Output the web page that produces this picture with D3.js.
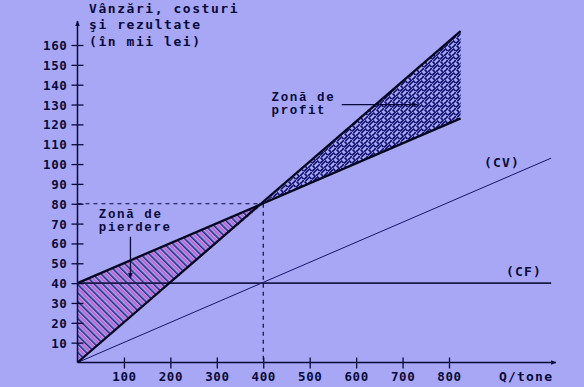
<!DOCTYPE html>
<html>
<head>
<meta charset="utf-8">
<script src="https://cdn.jsdelivr.net/npm/d3@7"></script>
<style>
  html, body { margin: 0; padding: 0; background: #a7a7f5; }
  svg { display: block; }
</style>
</head>
<body>
<svg id="chart" width="584" height="387"></svg>
<script>
// ---- data ----
const xTicks = [100, 200, 300, 400, 500, 600, 700, 800];
const yTicks = [10, 20, 30, 40, 50, 60, 70, 80, 90, 100, 110, 120, 130, 140, 150, 160];
const qValues = [0, 825];                 // quantity range for sales / total cost
const salesValues = [0, 167];             // sales (Vânzări)
const totalCostValues = [40, 123];        // total costs
const cvQ = [0, 1020];
const cvValues = [0, 103];                // variable costs (CV)
const cfQ = [0, 1020];
const cfValues = [40, 40];                // fixed costs (CF)
const breakEven = { q: 400, v: 80 };
const yTitle = ["Vânzări, costuri", "şi rezultate", "(în mii lei)"];
const xTitle = "Q/tone";

// ---- setup ----
const svg = d3.select("#chart");
const W = 584, H = 387;
svg.append("rect").attr("width", W).attr("height", H).attr("fill", "#a7a7f5");

const x = d3.scaleLinear().domain([0, 800]).range([77.5, 449]);
const y = d3.scaleLinear().domain([0, 160]).range([362.5, 45]);

const ink = "#0a0a3a";
const defs = svg.append("defs");

// loss hatch
const pl = defs.append("pattern").attr("id", "loss").attr("patternUnits", "userSpaceOnUse")
  .attr("width", 6).attr("height", 6).attr("patternTransform", "rotate(-45)");
pl.append("rect").attr("width", 6).attr("height", 6).attr("fill", "#a7a7f5");
pl.append("rect").attr("x", 0).attr("width", 1.8).attr("height", 6).attr("fill", "#c45fc8");
pl.append("rect").attr("x", 3).attr("width", 1.6).attr("height", 6).attr("fill", "#2a2a86");

// profit weave
const pp = defs.append("pattern").attr("id", "profit").attr("patternUnits", "userSpaceOnUse")
  .attr("width", 8).attr("height", 8);
pp.append("rect").attr("width", 8).attr("height", 8).attr("fill", "#a9a9f6");
pp.append("path").attr("d", "M0,3.5 L3.5,0 M1.5,5 L5,1.5 M4,8 L8,4")
  .attr("stroke", "#10106e").attr("stroke-width", 1.7).attr("fill", "none");
pp.append("path").attr("d", "M5,0.5 L7.5,3 M0.5,5.5 L3,8")
  .attr("stroke", "#10106e").attr("stroke-width", 1.7).attr("fill", "none");

const interp = (arrQ, arrV, q) => d3.scaleLinear().domain(arrQ).range(arrV)(q);

// loss area
const lossPts = [[0, interp(qValues, salesValues, 0)], [0, interp(qValues, totalCostValues, 0)], [breakEven.q, breakEven.v]];
svg.append("path")
  .attr("d", d3.line().x(d => x(d[0])).y(d => y(d[1]))(lossPts) + "Z")
  .attr("fill", "url(#loss)");

// profit area
const qEnd = qValues[1];
const profitPts = [[breakEven.q, breakEven.v], [qEnd, interp(qValues, salesValues, qEnd)], [qEnd, interp(qValues, totalCostValues, qEnd)]];
svg.append("path")
  .attr("d", d3.line().x(d => x(d[0])).y(d => y(d[1]))(profitPts) + "Z")
  .attr("fill", "url(#profit)");

// dashed break-even guides
svg.append("line").attr("x1", x(0)).attr("x2", x(breakEven.q)).attr("y1", y(breakEven.v)).attr("y2", y(breakEven.v))
  .attr("stroke", ink).attr("stroke-width", 1.2).attr("stroke-dasharray", "4,4");
svg.append("line").attr("x1", x(breakEven.q)).attr("x2", x(breakEven.q)).attr("y1", y(breakEven.v)).attr("y2", y(0))
  .attr("stroke", ink).attr("stroke-width", 1.2).attr("stroke-dasharray", "4,4");

const line = d3.line().x(d => x(d[0])).y(d => y(d[1]));
// CF
svg.append("path").attr("d", line(cfQ.map((q, i) => [q, cfValues[i]])))
  .attr("stroke", "#1a1a4a").attr("stroke-width", 1.6).attr("fill", "none");
// CV
svg.append("path").attr("d", line(cvQ.map((q, i) => [q, cvValues[i]])))
  .attr("stroke", "#16166a").attr("stroke-width", 1).attr("fill", "none");
// total cost
svg.append("path").attr("d", line(qValues.map((q, i) => [q, totalCostValues[i]])))
  .attr("stroke", "#05051e").attr("stroke-width", 2.3).attr("fill", "none");
// sales
svg.append("path").attr("d", line(qValues.map((q, i) => [q, salesValues[i]])))
  .attr("stroke", "#05051e").attr("stroke-width", 2.3).attr("fill", "none");

// arrow markers
defs.append("marker").attr("id", "arr").attr("viewBox", "0 0 10 10").attr("refX", 9).attr("refY", 5)
  .attr("markerWidth", 6).attr("markerHeight", 6).attr("markerUnits", "userSpaceOnUse").attr("orient", "auto")
  .append("path").attr("d", "M0,1 L10,5 L0,9 Z").attr("fill", ink);

// axes
const xAxisG = svg.append("g").attr("transform", `translate(0,${y(0)})`)
  .call(d3.axisBottom(x).tickValues(xTicks).tickSize(0).tickFormat(d3.format("d")));
xAxisG.select(".domain").remove();
xAxisG.selectAll(".tick text").attr("dy", 0).attr("y", 18);
xAxisG.selectAll(".tick").append("line").attr("y1", -5).attr("y2", 6).attr("stroke", ink).attr("stroke-width", 1.3);

const yAxisG = svg.append("g").attr("transform", `translate(${x(0)},0)`)
  .call(d3.axisLeft(y).tickValues(yTicks).tickSize(0).tickFormat(d3.format("d")));
yAxisG.select(".domain").remove();
yAxisG.selectAll(".tick text").attr("x", -10).attr("dy", "0.36em");
yAxisG.selectAll(".tick").append("line").attr("x1", -6).attr("x2", 6).attr("stroke", ink).attr("stroke-width", 1.3);

svg.selectAll(".tick text")
  .attr("fill", ink)
  .style("font-family", "'DejaVu Sans Mono', monospace")
  .style("font-weight", "bold").style("font-size", "12.5px").style("letter-spacing", "0.6px");

// axis lines with arrows
svg.append("line").attr("x1", x(0)).attr("x2", 556).attr("y1", y(0)).attr("y2", y(0))
  .attr("stroke", ink).attr("stroke-width", 1.5).attr("marker-end", "url(#arr)");
svg.append("line").attr("x1", x(0)).attr("x2", x(0)).attr("y1", y(0)).attr("y2", 21)
  .attr("stroke", ink).attr("stroke-width", 1.5).attr("marker-end", "url(#arr)");

// texts
const txt = (s, px, py, fam, size, ls) => svg.append("text").attr("x", px).attr("y", py).text(s)
  .attr("fill", ink).style("font-family", fam).style("font-weight", "bold")
  .style("font-size", size + "px").style("letter-spacing", ls + "px");

const mono = "'DejaVu Sans Mono', monospace";
const cour = "'Liberation Mono', monospace";
yTitle.forEach((s, i) => txt(s, 89, 13 + i * 16.3, mono, 13, 1.55));
txt(xTitle, 499, 381, mono, 13, 1.2);
txt("(CV)", 484, 167, mono, 13, 1.2);
txt("(CF)", 506, 276, mono, 13, 1.2);

// zone labels (data coordinates)
txt("Zonă de", x(46), y(72.6), cour, 12.5, 1.6);
txt("pierdere", x(46), y(66.2), cour, 12.5, 1.6);
txt("Zonă de", x(418), y(131.6), cour, 12.5, 1.6);
txt("profit", x(418), y(125.2), cour, 12.5, 1.6);

// annotation arrows
svg.append("line").attr("x1", x(114)).attr("x2", x(114)).attr("y1", y(63.4)).attr("y2", y(42.5))
  .attr("stroke", ink).attr("stroke-width", 1.3).attr("marker-end", "url(#arr)");
svg.append("line").attr("x1", x(569)).attr("x2", x(732)).attr("y1", y(130)).attr("y2", y(130))
  .attr("stroke", ink).attr("stroke-width", 1.3).attr("marker-end", "url(#arr)");
</script>
</body>
</html>
